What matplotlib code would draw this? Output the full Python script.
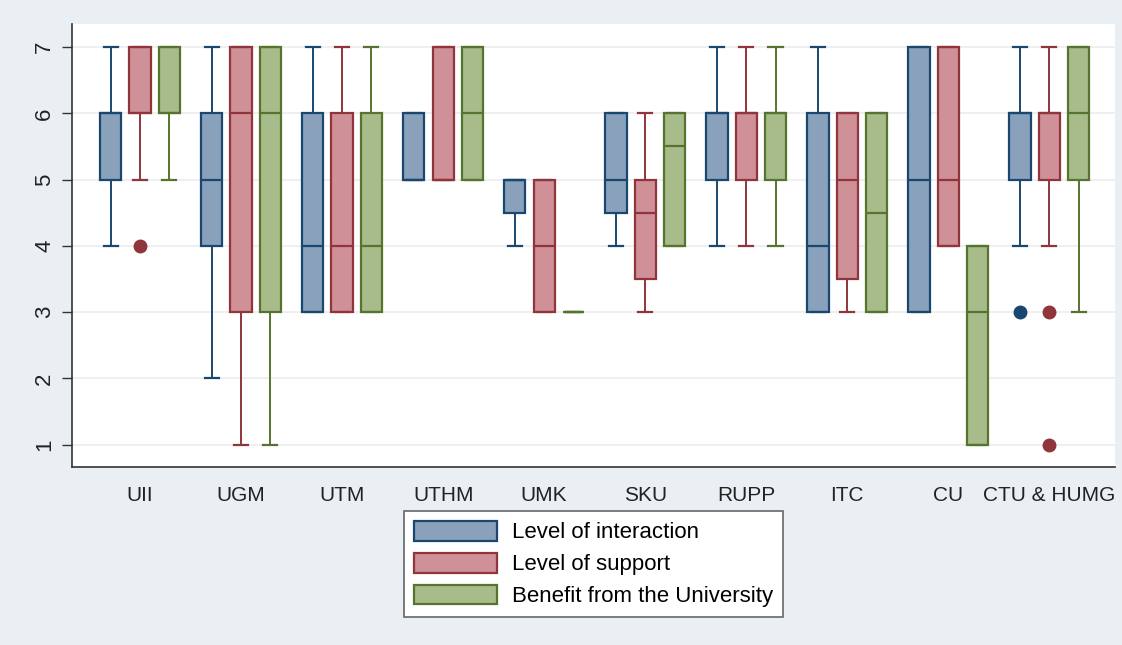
import matplotlib
matplotlib.use("Agg")
import matplotlib.pyplot as plt
from matplotlib.patches import Patch

plt.rcParams['font.family'] = ['Liberation Sans', 'DejaVu Sans']

groups = ["UII", "UGM", "UTM", "UTHM", "UMK", "SKU", "RUPP", "ITC", "CU", "CTU & HUMG"]
series_names = ["Level of interaction", "Level of support", "Benefit from the University"]

# five-number summaries per group: (whisker low, q1, median, q3, whisker high)
interaction = [(4, 5, 6, 6, 7), (2, 4, 5, 6, 7), (3, 3, 4, 6, 7), (5, 5, 5, 6, 6), (4, 4.5, 5, 5, 5),
               (4, 4.5, 5, 6, 6), (4, 5, 6, 6, 7), (3, 3, 4, 6, 7), (3, 3, 5, 7, 7), (4, 5, 6, 6, 7)]
interaction_outliers = [[], [], [], [], [], [], [], [], [], [3]]

support = [(5, 6, 6, 7, 7), (1, 3, 6, 7, 7), (3, 3, 4, 6, 7), (5, 5, 5, 7, 7), (3, 3, 4, 5, 5),
           (3, 3.5, 4.5, 5, 6), (4, 5, 6, 6, 7), (3, 3.5, 5, 6, 6), (4, 4, 5, 7, 7), (4, 5, 6, 6, 7)]
support_outliers = [[4], [], [], [], [], [], [], [], [], [3, 1]]

benefit = [(5, 6, 6, 7, 7), (1, 3, 6, 7, 7), (3, 3, 4, 6, 7), (5, 5, 6, 7, 7), (3, 3, 3, 3, 3),
           (4, 4, 5.5, 6, 6), (4, 5, 6, 6, 7), (3, 3, 4.5, 6, 6), (1, 1, 3, 4, 4), (3, 5, 6, 7, 7)]
benefit_outliers = [[], [], [], [], [], [], [], [], [], []]

yticks = [1, 2, 3, 4, 5, 6, 7]

edge_colors = ["#1a476f", "#90353b", "#55752f"]
fill_colors = ["#8aa1bb", "#cf9097", "#a8bb8b"]

bg = "#e9eff2"
fig = plt.figure(figsize=(11.22, 6.45), dpi=100, facecolor=bg)
ax = fig.add_axes([0.0642, 0.276, 0.9296, 0.687])
ax.set_facecolor("white")

offsets = [-0.29, 0.0, 0.29]
all_series = [(interaction, interaction_outliers), (support, support_outliers), (benefit, benefit_outliers)]

for s, (summ, outl) in enumerate(all_series):
    stats = []
    for g in range(len(groups)):
        lo, q1, med, q3, hi = summ[g]
        stats.append(dict(whislo=lo, q1=q1, med=med, q3=q3, whishi=hi, fliers=outl[g]))
    pos = [g + offsets[s] for g in range(len(groups))]
    ec, fc = edge_colors[s], fill_colors[s]
    ax.bxp(stats, positions=pos, widths=0.21, patch_artist=True, showfliers=True,
           capwidths=0.14, manage_ticks=False,
           boxprops=dict(facecolor=fc, edgecolor=ec, linewidth=1.6),
           medianprops=dict(color=ec, linewidth=1.6),
           whiskerprops=dict(color=ec, linewidth=1.4),
           capprops=dict(color=ec, linewidth=1.6),
           flierprops=dict(marker='o', markerfacecolor=ec, markeredgecolor=ec, markersize=9),
           zorder=3)

ax.set_xlim(-0.673, 9.65)
ax.set_ylim(0.665, 7.35)
ax.set_yticks(yticks)
ax.set_yticklabels([str(v) for v in yticks], rotation=90, va='center', fontsize=16, color="#222222")
ax.set_xticks(range(len(groups)))
ax.set_xticklabels(groups, fontsize=15, color="#222222")
ax.tick_params(axis='x', length=0, pad=14)
ax.tick_params(axis='y', length=7, width=1, color="#333333", pad=5)
ax.grid(axis='y', color="#ececec", linewidth=1.2, zorder=0)
ax.set_axisbelow(True)
for sp in ['top', 'right']:
    ax.spines[sp].set_visible(False)
for sp in ['left', 'bottom']:
    ax.spines[sp].set_color("#333333")
    ax.spines[sp].set_linewidth(1.2)

handles = [Patch(facecolor=fill_colors[i], edgecolor=edge_colors[i], linewidth=1.6, label=series_names[i])
           for i in range(3)]
leg = fig.legend(handles=handles, loc='center', bbox_to_anchor=(0.529, 0.1256), fontsize=16,
                 handlelength=3.75, handleheight=1.0, labelspacing=0.42, handletextpad=0.65,
                 borderpad=0.45, frameon=True, fancybox=False, edgecolor="#666666", framealpha=1.0)
leg.get_frame().set_linewidth(1.2)
leg.get_frame().set_facecolor("white")

fig.savefig("out.png", dpi=100, facecolor=bg)
